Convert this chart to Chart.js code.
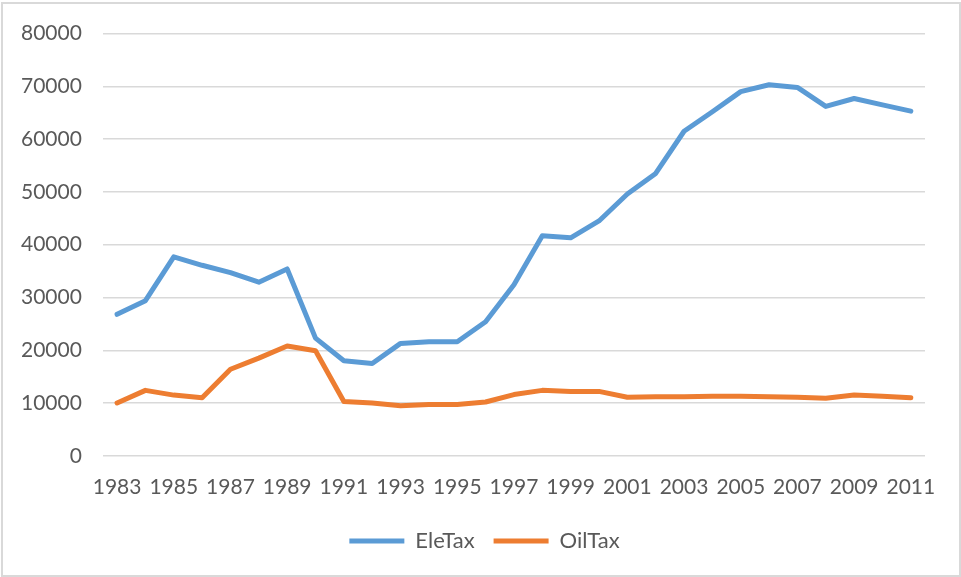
<!DOCTYPE html>
<html>
<head>
<meta charset="utf-8">
<script src="https://cdn.jsdelivr.net/npm/chart.js@4.4.1/dist/chart.umd.min.js"></script>
<style>
    body { margin: 0; background: #ffffff; }
    #wrap {
        position: absolute; left: 1px; top: 2px;
        width: 960px; height: 575px;
        box-sizing: border-box; border: 2px solid #d9d9d9;
    }
    #grafico { position: absolute; left: -3px; top: -4px; }
</style>
</head>
<body>
<div id="wrap"><canvas id="grafico" width="961" height="577"></canvas></div>
<script>
// anos
const years = ['1983', '1984', '1985', '1986', '1987', '1988', '1989', '1990', '1991', '1992',
    '1993', '1994', '1995', '1996', '1997', '1998', '1999', '2000', '2001', '2002',
    '2003', '2004', '2005', '2006', '2007', '2008', '2009', '2010', '2011'];

// series
const eleTax = [26800, 29400, 37700, 36100, 34700, 32900, 35400, 22300, 18000, 17500,
    21300, 21600, 21600, 25400, 32400, 41700, 41300, 44500, 49600, 53500,
    61500, 65200, 69000, 70300, 69800, 66200, 67700, 66500, 65300];
const oilTax = [10000, 12400, 11500, 11000, 16400, 18500, 20800, 19900, 10300, 10000,
    9500, 9700, 9700, 10200, 11600, 12400, 12200, 12200, 11100, 11200,
    11200, 11300, 11300, 11200, 11100, 10900, 11500, 11300, 11000];

// eixo y
const yMin = 0;
const yMax = 80000;
const yStep = 10000;

const colorBlue = "#5b9bd5";
const colorOrange = "#ed7d31";
const colorText = "#595959";
const colorGrid = "#d9d9d9";

const fontBase = { family: "Lato, 'Liberation Sans', sans-serif", size: 21 };

// legenda centrada na largura toda (e nao so na area do grafico)
const legendShift = {
    id: 'legendShift',
    afterLayout: (chart) => {
        if (chart.legend) {
            chart.legend.left += 22;
            chart.legend.right += 22;
        }
    }
};

const config = {
    type: 'line',
    data: {
        labels: years,
        datasets: [{
            label: 'EleTax',
            data: eleTax,
            borderColor: colorBlue,
            backgroundColor: colorBlue,
            borderWidth: 5,
            borderCapStyle: 'round',
            borderJoinStyle: 'round',
            pointRadius: 0,
            tension: 0
        }, {
            label: 'OilTax',
            data: oilTax,
            borderColor: colorOrange,
            backgroundColor: colorOrange,
            borderWidth: 5,
            borderCapStyle: 'round',
            borderJoinStyle: 'round',
            pointRadius: 0,
            tension: 0
        }]
    },
    options: {
        responsive: false,
        animation: false,
        layout: { padding: { top: 18, left: 0, right: 36, bottom: 15 } },
        plugins: {
            tooltip: { enabled: false },
            legend: {
                position: 'bottom',
                labels: {
                    usePointStyle: true,
                    pointStyle: 'line',
                    pointStyleWidth: 55,
                    color: colorText,
                    font: { family: fontBase.family, size: 22 },
                    padding: 19
                }
            }
        },
        scales: {
            x: {
                offset: true,
                grid: { display: false },
                border: { display: false },
                ticks: {
                    color: colorText,
                    font: fontBase,
                    autoSkip: false,
                    maxRotation: 0,
                    padding: 11,
                    callback: function (value, index) {
                        return index % 2 === 0 ? this.getLabelForValue(value) : '';
                    }
                }
            },
            y: {
                min: yMin,
                max: yMax,
                border: { display: false },
                grid: { color: colorGrid, lineWidth: 1.5, drawTicks: false },
                ticks: {
                    stepSize: yStep,
                    color: colorText,
                    font: fontBase,
                    padding: 21,
                    callback: (value) => String(value)
                }
            }
        }
    },
    plugins: [legendShift]
};

new Chart(document.getElementById('grafico'), config);
</script>
</body>
</html>
